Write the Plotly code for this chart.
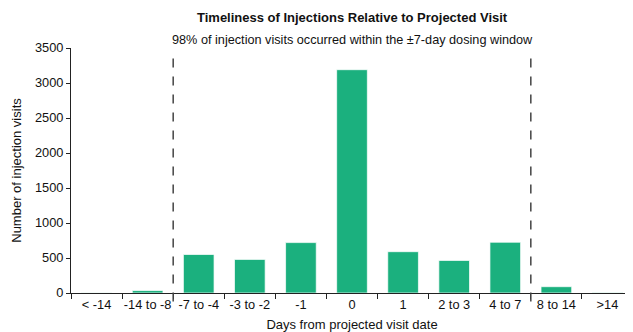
import plotly.graph_objects as go

categories = ["< -14", "-14 to -8", "-7 to -4", "-3 to -2", "-1", "0", "1", "2 to 3", "4 to 7", "8 to 14", ">14"]
visits = [2, 35, 550, 480, 720, 3190, 590, 465, 725, 90, 5]
y_ticks = [0, 500, 1000, 1500, 2000, 2500, 3000, 3500]
window_bounds = [1.5, 8.5]  # boundaries of the ±7-day window between categories

FONT = "Liberation Sans, Arial, sans-serif"
GREEN = "#1BB07E"
TXT = "#111111"

fig = go.Figure()
fig.add_trace(go.Bar(
    x=categories, y=visits, width=0.6,
    marker=dict(color=GREEN, line=dict(color="rgba(255,255,255,0.7)", width=1)),
))

for xb in window_bounds:
    fig.add_shape(type="line", xref="x", yref="paper", x0=xb, x1=xb, y0=-0.035, y1=0.99,
                  line=dict(color="#444444", width=1.5, dash="dash"))

fig.add_annotation(text="<b>Timeliness of Injections Relative to Projected Visit</b>",
                   xref="paper", yref="paper", x=0.5, y=1.0, yshift=31, yanchor="middle",
                   showarrow=False, font=dict(family=FONT, size=13, color=TXT))
fig.add_annotation(text="98% of injection visits occurred within the ±7-day dosing window",
                   xref="paper", yref="paper", x=0.5, y=1.0, yshift=8, yanchor="middle",
                   showarrow=False, font=dict(family=FONT, size=12.7, color=TXT))

fig.update_layout(
    width=625, height=324,
    margin=dict(l=63, r=0, t=40, b=39),
    paper_bgcolor="white", plot_bgcolor="white",
    showlegend=False,
    font=dict(family=FONT, size=13, color=TXT),
    bargap=0.4,
)
fig.update_xaxes(
    type="category", range=[-0.5, 10.5],
    showline=True, linecolor="#222222", linewidth=1,
    ticks="outside", tickson="boundaries", ticklen=5, tickcolor="#222222",
    showgrid=False, zeroline=False, tickangle=0, automargin=False,
    tickfont=dict(family=FONT, size=12.8, color=TXT),
    title=dict(text="Days from projected visit date", standoff=10,
               font=dict(family=FONT, size=13, color=TXT)),
)
fig.update_yaxes(
    range=[0, 3500], tickvals=y_ticks,
    showline=True, linecolor="#222222", linewidth=1,
    ticks="outside", ticklen=4, tickcolor="#222222",
    showgrid=False, zeroline=False, automargin=False,
    tickfont=dict(family=FONT, size=12.8, color=TXT),
    title=dict(text="Number of injection visits", standoff=10,
               font=dict(family=FONT, size=13, color=TXT)),
)

fig.write_html("out.html")
